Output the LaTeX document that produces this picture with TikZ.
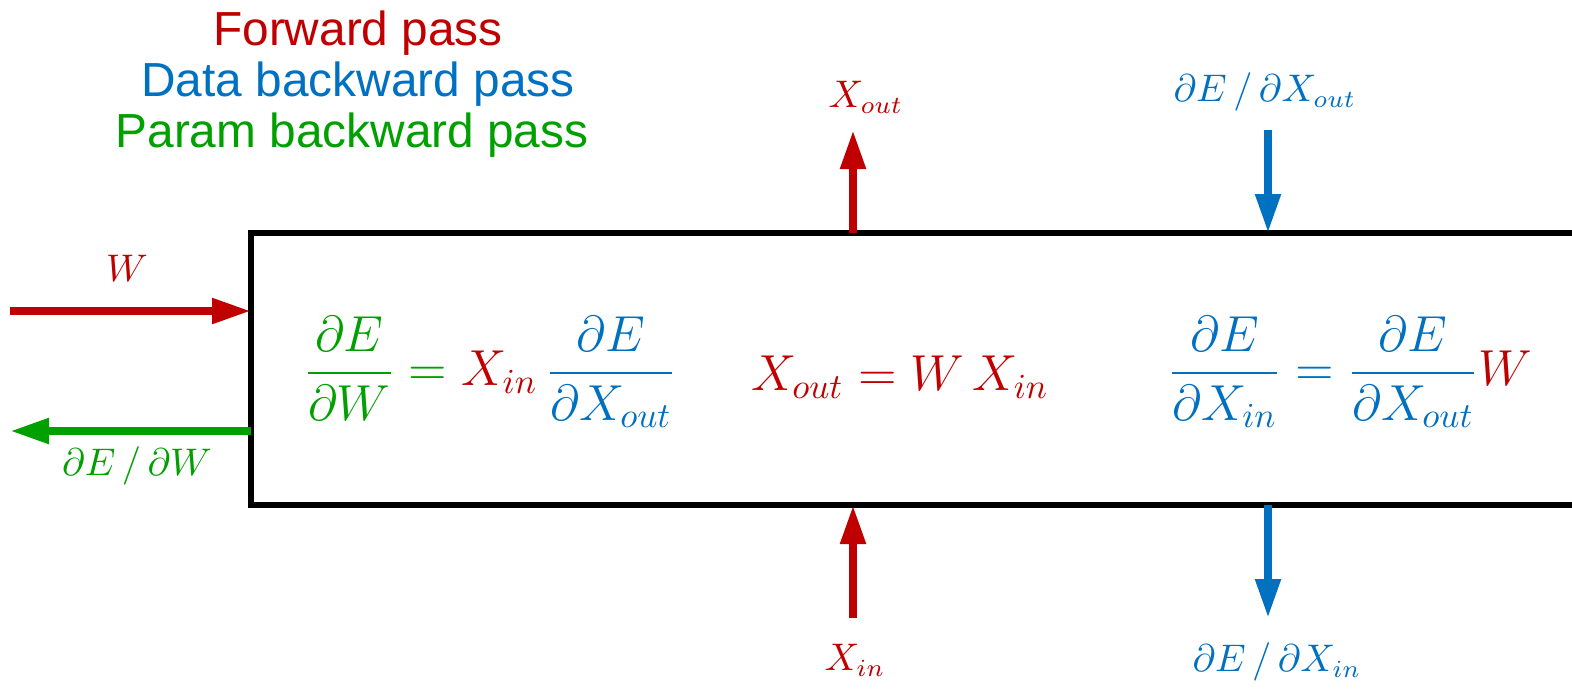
\documentclass[tikz,border=0pt]{standalone}
\usepackage{fontspec}
\setmainfont{Liberation Sans}
\usetikzlibrary{arrows.meta,positioning}
\definecolor{fwdred}{HTML}{C00000}
\definecolor{datablue}{HTML}{0070C0}
\definecolor{paramgreen}{HTML}{00A000}

\begin{document}
\begin{tikzpicture}[
  x=0.1mm,y=-0.1mm,
  key/.style={font=\fontsize{13.6}{16}\selectfont},
  lbl/.style={font=\fontsize{10.5}{12}\selectfont},
  eqn/.style={font=\fontsize{14.8}{18}\selectfont},
  layer/.style={draw,line width=0.55mm,inner sep=0pt,outer sep=0pt,
                minimum width=144.9mm,minimum height=27.2mm},
  pass/.style={-{Triangle[length=3.9mm,width=2.4mm]},line width=0.8mm},
  fwd/.style={pass,fwdred},
  data/.style={pass,datablue},
  param/.style={pass,paramgreen}
]
\useasboundingbox (0,0) rectangle (1572,688);

% legend
\node[key,text=fwdred] (fwdkey) at (358,33) {Forward pass};
\node[key,text=datablue] (datakey) at (358,84) {Data backward pass};
\node[key,text=paramgreen] (paramkey) at (352,135) {Param backward pass};

% the layer (runs off the right edge)
\node[layer] (layer) at (975.5,369) {};

% equations inside the layer
\node[eqn] (gradw) at (490,372)
  {$\displaystyle\color{paramgreen}\frac{\partial E}{\partial W}={\color{fwdred}X_{in}}\,{\color{datablue}\frac{\partial E}{\partial X_{out}}}$};
\node[eqn,text=fwdred] (fwdeq) at (900,377) {$X_{out}=W\,X_{in}$};
\node[eqn] (gradx) at (1350,372)
  {$\displaystyle\color{datablue}\frac{\partial E}{\partial X_{in}}=\frac{\partial E}{\partial X_{out}}{\color{fwdred}W}$};

% free ends of the arrows
\coordinate (win) at (10,311);
\coordinate (dwout) at (10,431);
\coordinate (xoutend) at (853,130);
\coordinate (xinstart) at (853,618);
\coordinate (dxoutstart) at (1268,130);
\coordinate (dxinend) at (1268,618);

\draw[fwd] (win) -- (win -| layer.west);
\draw[param] (dwout -| layer.west) -- (dwout);
\draw[fwd] (xoutend |- layer.north) -- (xoutend);
\draw[fwd] (xinstart) -- (xinstart |- layer.south);
\draw[data] (dxoutstart) -- (dxoutstart |- layer.north);
\draw[data] (dxinend |- layer.south) -- (dxinend);

% arrow labels
\node[lbl,text=fwdred] (wlbl) at (127,268) {$W$};
\node[lbl,text=paramgreen] (dwlbl) at (137,466) {$\partial E\,/\,\partial W$};
\node[lbl,text=fwdred] (xoutlbl) at (866,97) {$X_{out}$};
\node[lbl,text=fwdred] (xinlbl) at (855,660) {$X_{in}$};
\node[lbl,text=datablue] (dxoutlbl) at (1265,92) {$\partial E\,/\,\partial X_{out}$};
\node[lbl,text=datablue] (dxinlbl) at (1277,662) {$\partial E\,/\,\partial X_{in}$};
\end{tikzpicture}
\end{document}
